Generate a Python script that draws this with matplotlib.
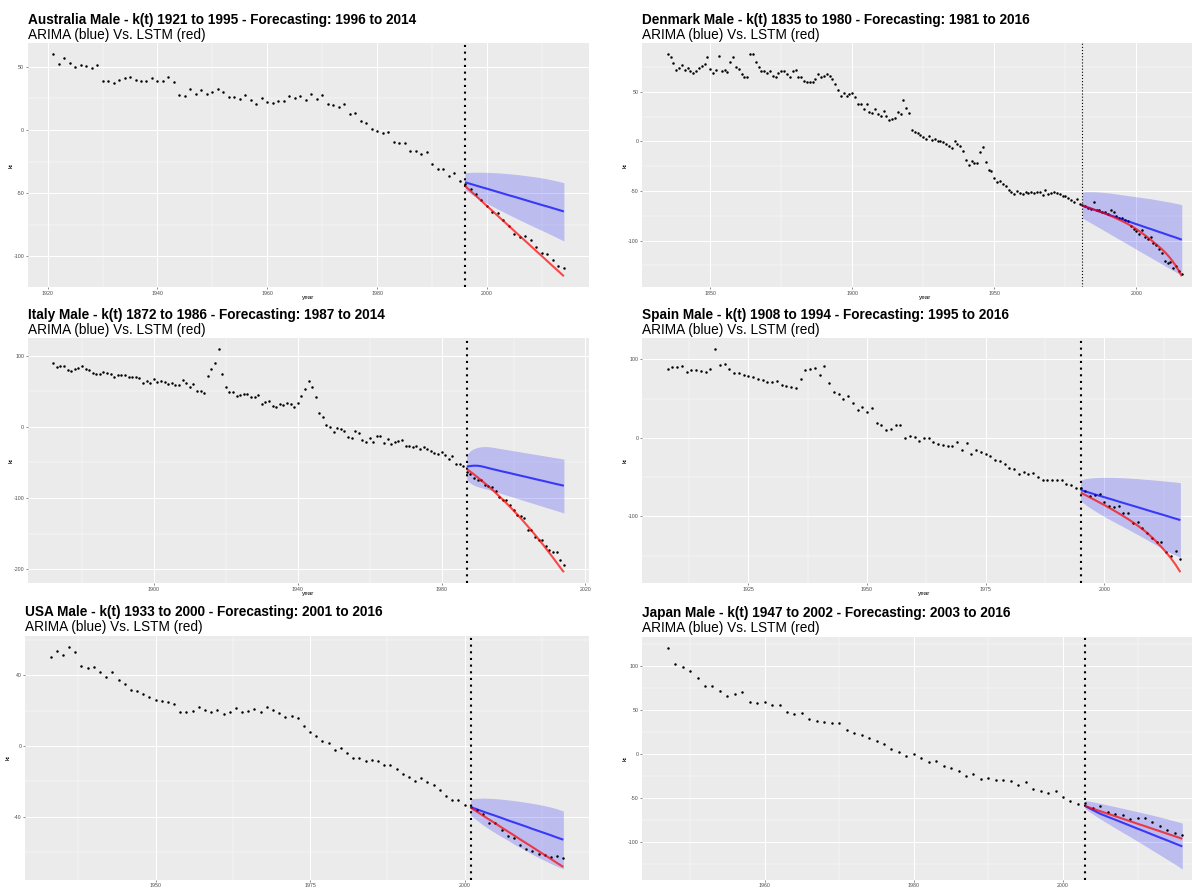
import numpy as np
import matplotlib
matplotlib.use("Agg")
import matplotlib.pyplot as plt
from matplotlib.ticker import MultipleLocator, FuncFormatter

plt.rcParams['font.family'] = ['Liberation Sans', 'DejaVu Sans']

W, H = 1192, 890

# ---------------- DATA ----------------
# Australia
aus_obs_start = 1921
aus_obs = [59.8, 52.5, 56.7, 52.8, 50.1, 51.7, 50.9, 49.1, 51.7, 39.1,
           39.1, 37.5, 39.6, 41.2, 42.3, 39.9, 38.8, 38.6, 41.2, 38.6,
           38.6, 42.0, 38.3, 27.8, 26.8, 32.5, 28.6, 31.8, 28.3, 29.7,
           32.5, 30.4, 26.0, 26.0, 24.9, 27.6, 24.1, 20.7, 25.5, 22.0,
           21.0, 23.1, 23.1, 27.0, 25.2, 27.0, 24.1, 28.3, 24.4, 27.6,
           20.7, 19.7, 18.1, 20.2, 12.6, 13.6, 7.3, 5.2, 1.0, -0.5,
           -2.4, -1.6, -9.2, -10.2, -10.2, -16.5, -16.5, -18.9, -17.1, -26.8,
           -31.2, -31.2, -36.7, -34.1, -40.7, -42.8, -46.3, -50.8, -55.0, -59.7,
           -65.0, -65.5, -71.5, -75.7, -82.0, -84.4, -83.9, -86.7, -92.5, -97.2,
           -98.3, -103.0, -107.7, -108.8]
aus_fc_start = 1996
aus_arima = [-41.3, -42.6, -43.9, -45.2, -46.4, -47.7, -49.0, -50.3, -51.6, -52.8,
             -54.1, -55.4, -56.7, -58.0, -59.3, -60.5, -61.8, -63.1, -64.4]
aus_upper = [-33.7, -33.5, -33.4, -33.4, -33.5, -33.7, -33.9, -34.2, -34.6, -35.0,
             -35.5, -36.0, -36.6, -37.2, -37.9, -38.7, -39.6, -40.6, -41.6]
aus_lower = [-47.3, -50.3, -53.0, -55.6, -58.0, -60.3, -62.6, -64.8, -67.0, -69.1,
             -71.2, -73.3, -75.4, -77.4, -79.4, -81.4, -83.5, -85.6, -87.8]
aus_lstm = [-44.2, -48.2, -52.1, -56.1, -60.1, -64.0, -68.0, -72.0, -75.9, -79.9,
            -83.9, -87.8, -91.8, -95.8, -99.7, -103.7, -107.7, -111.6, -115.6]

# Denmark
den_obs_start = 1835
den_obs = [87.5, 84.8, 79.4, 72.0, 73.7, 77.1, 71.4, 73.7, 70.4, 68.7,
           70.4, 73.7, 76.4, 77.7, 85.4, 72.7, 69.3, 71.4, 86.4, 70.4,
           71.4, 69.7, 80.1, 85.4, 74.4, 72.7, 68.0, 65.0, 65.3, 87.6,
           87.6, 80.4, 74.7, 70.4, 70.4, 69.3, 71.0, 66.0, 65.3, 69.3,
           70.4, 70.4, 68.0, 65.3, 70.4, 72.0, 65.3, 64.7, 61.3, 59.6,
           59.6, 59.3, 62.6, 68.0, 64.7, 66.0, 68.0, 66.0, 62.6, 58.0,
           51.9, 45.9, 49.2, 45.2, 47.6, 48.6, 44.6, 37.9, 37.5, 32.5,
           37.9, 29.5, 28.5, 32.5, 27.5, 25.1, 30.2, 25.8, 21.1, 22.8,
           23.8, 29.1, 27.8, 41.2, 33.2, 28.5, 11.1, 9.0, 8.4, 6.7,
           4.0, 2.7, 5.7, 1.7, 2.3, 0.0, 0.3, -0.3, -2.3, -5.0,
           -6.7, 0.7, -2.7, -5.0, -9.4, -19.1, -24.1, -20.1, -21.8, -21.8,
           -11.1, -6.0, -21.1, -28.5, -30.2, -36.9, -40.9, -39.5, -42.9, -45.2,
           -49.2, -51.3, -52.6, -50.3, -51.9, -52.6, -51.3, -51.9, -51.3, -51.9,
           -51.3, -51.3, -53.6, -49.2, -52.9, -51.9, -50.6, -51.9, -52.6, -54.6,
           -55.3, -56.9, -58.6, -61.0, -58.0, -62.6, -64.3, -65.3, -67.0, -68.0,
           -61.0, -68.7, -69.3, -70.7, -71.4, -72.7, -69.3, -71.0, -74.7, -77.4,
           -77.1, -78.7, -80.4, -85.4, -88.1, -90.5, -92.8, -89.4, -96.1, -98.2,
           -96.1, -102.8, -103.9, -108.2, -112.2, -120.6, -122.3, -121.6, -127.3, -125.6,
           -130.7, -134.0]
den_fc_start = 1981
den_arima = [-64.8, -65.8, -66.8, -67.7, -68.7, -69.7, -70.7, -71.6, -72.6, -73.6,
             -74.6, -75.5, -76.5, -77.5, -78.5, -79.4, -80.4, -81.4, -82.4, -83.4,
             -84.3, -85.3, -86.3, -87.3, -88.2, -89.2, -90.2, -91.2, -92.1, -93.1,
             -94.1, -95.1, -96.0, -97.0, -98.0, -99.0]
den_upper = [-51.1, -50.8, -50.7, -50.7, -50.8, -50.9, -51.1, -51.3, -51.6, -51.9,
             -52.2, -52.6, -53.0, -53.4, -53.8, -54.2, -54.6, -55.0, -55.4, -55.8,
             -56.2, -56.6, -57.0, -57.4, -57.8, -58.3, -58.8, -59.3, -59.8, -60.3,
             -60.8, -61.3, -61.9, -62.5, -63.1, -63.8]
den_lower = [-77.2, -78.9, -80.5, -82.2, -83.8, -85.5, -87.1, -88.8, -90.4, -92.1,
             -93.8, -95.4, -97.1, -98.7, -100.4, -102.0, -103.7, -105.3, -107.0, -108.7,
             -110.3, -112.0, -113.6, -115.3, -116.9, -118.6, -120.2, -121.9, -123.6, -125.2,
             -126.9, -128.5, -130.2, -131.8, -133.5, -135.2]
den_lstm = [-64.8, -65.7, -66.6, -67.6, -68.6, -69.6, -70.6, -71.6, -72.7, -73.9,
            -75.1, -76.3, -77.6, -78.9, -80.3, -81.7, -83.2, -84.8, -86.5, -88.3,
            -90.3, -92.4, -94.5, -96.7, -99.0, -101.3, -103.7, -106.1, -108.7, -111.4,
            -114.5, -117.9, -121.7, -125.8, -130.5, -135.8]

# Italy
ita_obs_start = 1872
ita_obs = [89.3, 84.6, 85.5, 86.0, 79.9, 78.5, 80.8, 82.2, 85.5, 80.8,
           79.9, 76.2, 74.3, 73.8, 77.6, 75.2, 74.3, 70.6, 72.4, 72.4,
           72.9, 70.6, 70.1, 70.6, 68.2, 61.2, 65.0, 61.2, 67.3, 63.6,
           64.5, 63.6, 60.3, 62.1, 58.4, 58.9, 65.9, 61.2, 55.6, 60.3,
           50.9, 50.9, 47.2, 71.5, 80.8, 90.2, 108.9, 74.3, 56.5, 49.5,
           48.6, 43.5, 44.9, 45.8, 46.3, 41.6, 41.6, 44.9, 32.2, 35.5,
           36.9, 29.4, 27.6, 31.8, 30.8, 34.1, 32.2, 28.5, 34.1, 43.5,
           53.3, 65.0, 55.6, 42.5, 19.2, 13.6, 2.8, -0.5, -6.5, -0.9,
           -2.8, -5.1, -14.5, -15.4, -5.6, -8.9, -18.2, -21.5, -15.9, -21.5,
           -12.6, -12.6, -22.0, -17.3, -23.8, -21.5, -19.2, -18.7, -26.2, -26.6,
           -28.5, -26.2, -30.8, -28.5, -30.8, -33.2, -36.0, -37.9, -35.5, -39.3,
           -45.3, -40.2, -51.9, -51.9, -55.6, -64.0, -65.9, -72.0, -74.3, -74.3,
           -81.3, -83.6, -85.0, -90.7, -98.6, -102.3, -103.3, -109.3, -116.4, -123.4,
           -124.8, -128.0, -144.4, -144.4, -154.7, -158.4, -159.3, -166.8, -173.4, -176.2,
           -176.2, -187.4, -194.4]
ita_fc_start = 1987
ita_arima = [-55.6, -55.0, -54.5, -54.6, -55.3, -56.5, -57.8, -59.1, -60.3, -61.5,
             -62.7, -63.8, -65.0, -66.2, -67.4, -68.6, -69.7, -70.9, -72.1, -73.3,
             -74.5, -75.6, -76.8, -78.0, -79.2, -80.4, -81.5, -82.7]
ita_upper = [-39.3, -33.5, -30.5, -28.8, -27.9, -27.6, -27.8, -28.5, -29.3, -30.2,
             -31.0, -31.9, -32.7, -33.5, -34.4, -35.2, -36.1, -36.9, -37.7, -38.6,
             -39.4, -40.3, -41.1, -41.9, -42.8, -43.6, -44.5, -45.3]
ita_lower = [-74.3, -79.0, -82.0, -84.0, -85.5, -86.8, -88.2, -89.6, -91.2, -92.7,
             -94.3, -95.9, -97.4, -99.0, -100.6, -102.1, -103.7, -105.3, -106.8, -108.4,
             -110.0, -111.5, -113.1, -114.7, -116.2, -117.8, -119.4, -121.0]
ita_lstm = [-59.3, -63.0, -66.8, -70.8, -74.9, -79.1, -83.4, -87.9, -92.5, -97.3,
            -102.1, -107.1, -112.3, -117.5, -122.9, -128.4, -134.1, -139.9, -145.8, -151.8,
            -158.0, -164.3, -170.7, -177.3, -184.0, -190.8, -197.7, -204.2]

# Spain
esp_obs_start = 1908
esp_obs = [87.9, 90.0, 90.4, 91.7, 84.1, 86.2, 86.2, 84.9, 84.1, 87.0,
           112.5, 92.1, 93.8, 87.9, 82.8, 82.8, 79.4, 78.6, 76.9, 75.2,
           73.0, 71.3, 71.3, 72.6, 67.1, 65.8, 64.5, 62.8, 74.7, 86.2,
           87.9, 89.2, 79.8, 91.7, 70.1, 57.7, 55.6, 48.8, 53.5, 44.6,
           35.2, 38.6, 33.1, 38.2, 19.1, 16.1, 9.8, 11.0, 16.1, 16.1,
           0.4, 2.5, 1.3, -3.8, 0.0, 0.0, -5.1, -8.1, -9.3, -10.2,
           -10.6, -5.1, -14.9, -6.4, -20.0, -15.7, -17.8, -20.8, -23.4, -27.6,
           -29.3, -33.5, -37.8, -39.1, -46.3, -43.3, -46.3, -44.6, -49.7, -53.9,
           -53.1, -53.1, -53.1, -53.9, -59.4, -60.3, -63.3, -64.3, -67.7, -74.1,
           -72.4, -72.0, -81.7, -86.4, -87.7, -86.4, -96.2, -95.3, -108.1, -107.2,
           -114.9, -120.8, -128.0, -132.3, -132.3, -145.0, -150.1, -143.7, -154.8]
esp_fc_start = 1995
esp_arima = [-66.5, -68.3, -70.1, -72.0, -73.8, -75.6, -77.4, -79.2, -81.1, -82.9,
             -84.7, -86.5, -88.3, -90.1, -92.0, -93.8, -95.6, -97.4, -99.2, -101.1,
             -102.9, -104.7]
esp_upper = [-53.7, -52.0, -51.2, -50.7, -50.4, -50.3, -50.3, -50.4, -50.6, -50.9,
             -51.2, -51.6, -52.0, -52.5, -53.0, -53.5, -54.0, -54.6, -55.2, -55.8,
             -56.4, -57.1]
esp_lower = [-80.0, -85.0, -89.2, -93.0, -96.7, -100.2, -103.6, -106.9, -110.1, -113.3,
             -116.5, -119.8, -123.1, -126.5, -129.9, -133.3, -136.8, -140.3, -143.9, -146.7,
             -149.4, -152.0]
esp_lstm = [-69.8, -72.8, -76.0, -79.2, -82.4, -85.6, -89.0, -92.5, -96.0, -99.7,
            -103.5, -107.5, -111.7, -116.2, -121.0, -126.6, -132.5, -138.9, -145.8, -153.2,
            -161.5, -171.0]

# USA
usa_obs_start = 1933
usa_obs = [50.5, 53.7, 51.5, 56.0, 52.8, 45.3, 43.9, 44.7, 41.9, 39.1,
           41.5, 37.4, 35.1, 31.7, 31.2, 29.5, 27.4, 26.1, 25.5, 24.6,
           23.8, 19.0, 19.3, 19.5, 21.8, 20.3, 19.3, 20.5, 17.8, 19.3,
           21.6, 19.3, 19.9, 20.7, 19.0, 22.2, 20.1, 18.4, 16.5, 16.9,
           15.8, 11.5, 7.7, 5.4, 2.6, 1.5, -2.3, -1.1, -4.1, -6.9,
           -6.9, -8.3, -7.9, -8.8, -10.7, -10.7, -13.3, -16.0, -17.7, -19.7,
           -18.2, -20.5, -22.0, -24.8, -28.5, -30.4, -30.8, -33.2, -34.6, -36.4,
           -38.7, -43.6, -43.6, -47.5, -50.9, -52.0, -56.2, -58.2, -59.5, -61.2,
           -61.4, -62.7, -62.2, -63.3]
usa_fc_start = 2001
usa_arima = [-34.6, -35.8, -37.1, -38.3, -39.5, -40.7, -42.0, -43.2, -44.4, -45.6,
             -46.9, -48.1, -49.3, -50.5, -51.8, -53.0]
usa_upper = [-29.9, -29.6, -29.5, -29.6, -29.8, -30.1, -30.5, -30.9, -31.4, -31.9,
             -32.5, -33.1, -33.8, -34.6, -35.6, -36.8]
usa_lower = [-39.3, -42.0, -44.7, -47.0, -49.2, -51.3, -53.3, -55.5, -57.4, -59.3,
             -61.3, -63.1, -64.8, -66.5, -68.1, -69.5]
usa_lstm = [-34.9, -37.1, -39.4, -41.6, -43.8, -46.1, -48.3, -50.5, -52.8, -55.0,
            -57.2, -59.5, -61.7, -63.9, -66.2, -68.4]

# Japan
jpn_obs_start = 1947
jpn_obs = [121.2, 102.3, 99.6, 94.3, 87.1, 78.0, 78.0, 71.6, 65.9, 68.2,
           70.8, 59.8, 58.3, 59.5, 55.7, 56.1, 47.7, 45.5, 47.0, 40.2,
           37.9, 36.7, 35.6, 35.2, 27.3, 24.2, 22.3, 18.6, 14.4, 11.0,
           5.7, 3.0, -1.9, 0.0, -4.9, -9.1, -8.3, -12.9, -15.5, -19.7,
           -24.6, -23.1, -27.7, -26.9, -29.2, -29.2, -30.3, -34.8, -32.2, -39.8,
           -42.0, -43.6, -42.0, -48.9, -53.8, -56.8, -55.7, -61.0, -59.1, -65.2,
           -67.8, -68.9, -74.2, -72.7, -72.3, -77.7, -81.4, -86.0, -89.4, -92.4]
jpn_fc_start = 2003
jpn_arima = [-59.1, -63.5, -67.8, -71.2, -74.5, -77.9, -81.3, -84.7, -88.0, -91.4,
             -94.8, -98.1, -101.5, -104.9]
jpn_upper = [-52.7, -54.2, -56.0, -57.8, -59.7, -61.6, -63.5, -65.4, -67.4, -69.4,
             -71.5, -73.7, -76.0, -78.4]
jpn_lower = [-62.1, -68.1, -73.6, -78.8, -83.9, -88.9, -93.9, -99.0, -104.1, -109.3,
             -114.5, -119.8, -125.1, -130.5]
jpn_lstm = [-59.1, -62.0, -64.8, -67.7, -70.5, -73.4, -76.2, -79.1, -81.9, -84.8,
            -87.6, -90.5, -93.3, -96.2]

titles = [
    "Australia Male - k(t) 1921 to 1995 - Forecasting: 1996 to 2014",
    "Denmark Male - k(t) 1835 to 1980 - Forecasting: 1981 to 2016",
    "Italy Male - k(t) 1872 to 1986 - Forecasting: 1987 to 2014",
    "Spain Male - k(t) 1908 to 1994 - Forecasting: 1995 to 2016",
    "USA Male - k(t) 1933 to 2000 - Forecasting: 2001 to 2016",
    "Japan Male - k(t) 1947 to 2002 - Forecasting: 2003 to 2016",
]
subtitle = "ARIMA (blue) Vs. LSTM (red)"

series = [
    (aus_obs_start, aus_obs, aus_fc_start, aus_arima, aus_lower, aus_upper, aus_lstm),
    (den_obs_start, den_obs, den_fc_start, den_arima, den_lower, den_upper, den_lstm),
    (ita_obs_start, ita_obs, ita_fc_start, ita_arima, ita_lower, ita_upper, ita_lstm),
    (esp_obs_start, esp_obs, esp_fc_start, esp_arima, esp_lower, esp_upper, esp_lstm),
    (usa_obs_start, usa_obs, usa_fc_start, usa_arima, usa_lower, usa_upper, usa_lstm),
    (jpn_obs_start, jpn_obs, jpn_fc_start, jpn_arima, jpn_lower, jpn_upper, jpn_lstm),
]

# ---------------- LAYOUT / STYLE ----------------
# (left, top, right, bottom) in pixels
boxes = [
    (27.6, 43.3, 589.4, 287.3),
    (642.0, 43.3, 1207.5, 287.3),
    (27.6, 338.3, 589.4, 583.3),
    (642.0, 338.3, 1206.0, 583.3),
    (24.9, 635.7, 589.0, 880.0),
    (642.0, 636.5, 1208.0, 880.0),
]
# (x major, x major offset, x minor, y major, y minor)
ticks = [
    (20, 0, 10, 50, 25),
    (50, 0, 25, 50, 25),
    (40, 20, 20, 100, 50),
    (25, 0, 12.5, 100, 50),
    (25, 0, 12.5, 40, 20),
    (20, 0, 10, 50, 25),
]
show_xlabel = [True, True, True, True, False, False]
vline_style = [(1.5, (0, (1, 2.2))), (0.8, (0, (1, 1.8))), (1.5, (0, (1, 2.2))),
               (1.5, (0, (1, 2.2))), (1.5, (0, (1, 2.2))), (1.5, (0, (1, 2.2)))]

fig = plt.figure(figsize=(W / 100, H / 100), dpi=100)
fig.patch.set_facecolor("white")

fmt = FuncFormatter(lambda v, p: "%d" % round(v))

for i, (box, tk, title) in enumerate(zip(boxes, ticks, titles)):
    l, t, r, b = box
    ax = fig.add_axes([l / W, 1 - b / H, (r - l) / W, (b - t) / H])
    ax.set_facecolor("#EBEBEB")
    for s in ax.spines.values():
        s.set_visible(False)
    obs_start, obs, fc_start, arima, lower, upper, lstm = series[i]
    yrs = np.arange(obs_start, obs_start + len(obs))
    fyrs = np.arange(fc_start, fc_start + len(arima))

    ax.fill_between(fyrs, lower, upper, color="blue", alpha=0.2, lw=0, zorder=2)
    ax.scatter(yrs, obs, s=3.2, color="black", lw=0, zorder=3)
    lw, ls = vline_style[i]
    ax.axvline(fc_start, color="black", lw=lw, linestyle=ls, zorder=4)
    ax.plot(fyrs, arima, color="blue", alpha=0.7, lw=1.5, zorder=5, solid_capstyle="butt")
    ax.plot(fyrs, lstm, color="red", alpha=0.7, lw=1.5, zorder=5, solid_capstyle="butt")

    ax.margins(0.05)
    ax.xaxis.set_major_locator(MultipleLocator(tk[0], offset=tk[1]))
    ax.xaxis.set_minor_locator(MultipleLocator(tk[2]))
    ax.yaxis.set_major_locator(MultipleLocator(tk[3]))
    ax.yaxis.set_minor_locator(MultipleLocator(tk[4]))
    ax.grid(which="major", color="white", lw=0.75, zorder=0)
    ax.grid(which="minor", color="white", lw=0.35, zorder=0)
    ax.set_axisbelow(True)
    ax.tick_params(which="major", length=1.5, width=0.4, color="#333333",
                   labelsize=3.8, labelcolor="#4D4D4D", pad=1.0)
    ax.tick_params(which="minor", length=0)
    ax.xaxis.set_major_formatter(fmt)
    ax.yaxis.set_major_formatter(fmt)

    fig.text(l / W, 1 - (t - 19.3) / H, title, fontsize=9.8, fontweight="bold",
             ha="left", va="baseline", color="black")
    fig.text(l / W, 1 - (t - 4.5) / H, subtitle, fontsize=9.8,
             ha="left", va="baseline", color="black")
    if show_xlabel[i]:
        fig.text(((l + r) / 2) / W, 1 - (b + 10.7) / H, "year", fontsize=4.6,
                 ha="center", va="center", color="black")
    fig.text((l - 16.5) / W, 1 - ((t + b) / 2) / H, "kt", fontsize=4.6,
             ha="center", va="center", rotation=90, color="black")

fig.savefig("out.png", dpi=100)
